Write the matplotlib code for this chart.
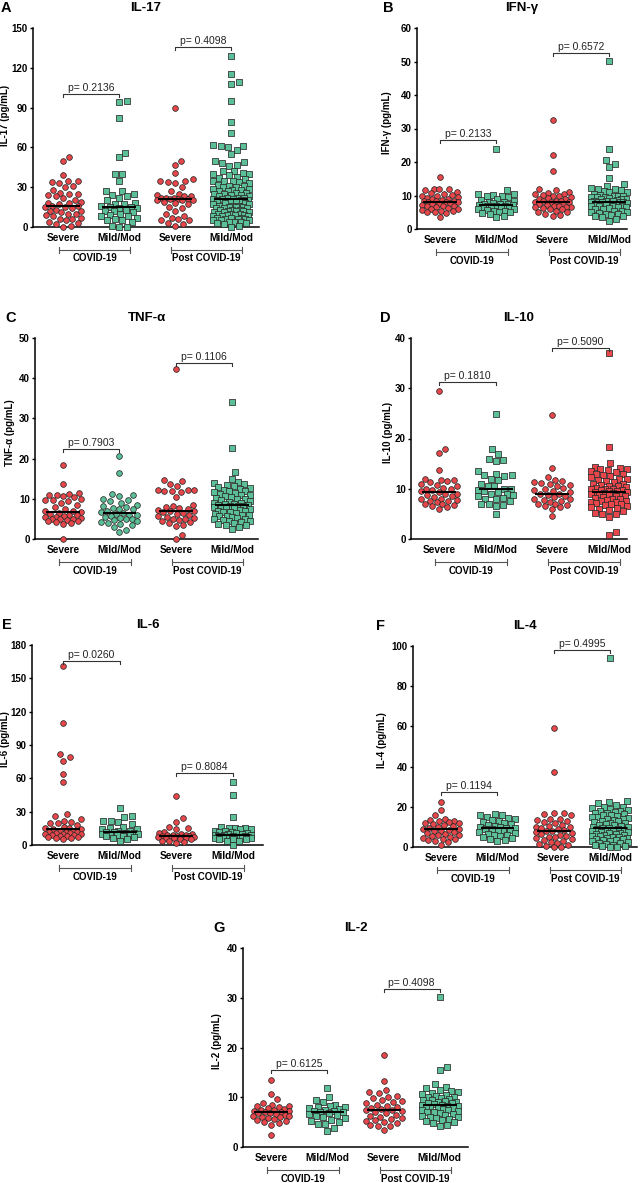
import numpy as np
import matplotlib
matplotlib.use('Agg')
import matplotlib.pyplot as plt
from matplotlib import transforms

plt.rcParams['font.family'] = ['Liberation Sans', 'DejaVu Sans']

# ---------------- data ----------------
categories = ['Severe', 'Mild/Mod', 'Severe', 'Mild/Mod']
group_names = ['COVID-19', 'Post COVID-19']

# IL-17
il17_sev_c = [53, 50, 39, 35, 35, 34, 33, 31, 30, 28, 26, 25, 25, 24, 23, 22, 20, 19, 18, 18, 17, 16, 16, 15, 15,
              14, 13, 12, 12, 11, 10, 10, 9, 8, 7, 6, 6, 5, 4, 3, 2, 1, 0]
il17_mild_c = [95, 94, 82, 56, 53, 40, 40, 35, 27, 27, 25, 24, 23, 22, 20, 18, 17, 17, 16, 15, 15, 14, 14, 13, 12,
               12, 11, 10, 9, 8, 8, 7, 6, 5, 5, 4, 1, 0, 0]
il17_sev_p = [90, 50, 47, 41, 36, 35, 35, 34, 33, 30, 27, 25, 24, 23, 23, 22, 22, 22, 21, 21, 21, 20, 20, 20, 19,
              18, 17, 15, 14, 12, 10, 8, 7, 6, 5, 5, 3, 2, 1]
il17_mild_p = [129, 115, 109, 108, 95, 79, 71, 62, 61, 61, 60, 58, 55, 50, 49, 48, 47, 46,
               42, 42, 41, 40, 40, 39, 38, 37, 36, 35, 35, 35, 34, 33, 32, 31, 31, 30, 30,
               29, 29, 28, 28, 27, 27, 26, 26, 25, 25, 24, 24, 23, 23, 22, 22, 22, 21, 21, 21, 20, 20, 20,
               19, 19, 18, 18, 17, 17, 16, 16, 16, 15, 15, 15, 14, 14, 14, 13, 13, 13, 12, 12, 12, 11, 11, 11,
               10, 10, 10, 9, 9, 9, 8, 8, 8, 7, 7, 7, 6, 6, 6, 5, 5, 5, 4, 4, 4, 3, 3, 2, 1, 0]

# IFN-gamma
ifng_sev_c = [15.5, 12, 12, 11.8, 11.5, 11, 10.8, 10.5, 10.2, 10, 10, 9.5, 9.3, 9, 9, 8.8, 8.5, 8.5, 8.3, 8, 8, 8,
              7.8, 7.5, 7.5, 7.2, 7, 7, 6.8, 6.5, 6.3, 6, 6, 5.8, 5.5, 5.5, 5.2, 5, 4.8, 3.5]
ifng_mild_c = [24, 11.5, 10.5, 10.3, 10.2, 10, 10, 9.5, 9, 8.8, 8.5, 8, 8, 7.8, 7.5, 7.5, 7.5, 7.3, 7.2, 7, 7, 7,
               6.8, 6.5, 6.5, 6.3, 6, 6, 5.8, 5.5, 5.5, 5, 5, 4.8, 4.5, 4, 3.5]
ifng_sev_p = [32.5, 22, 17.2, 12, 11.5, 11, 10.8, 10.5, 10.5, 10.2, 10, 10, 9.5, 9.2, 9, 9, 8.5, 8.5, 8.3, 8, 8, 8,
              7.5, 7.5, 7.2, 7, 7, 6.5, 6.5, 6.5, 6.2, 6, 6, 5.5, 5, 5, 4.5, 4.2, 4]
ifng_mild_p = [50.2, 23.8, 20.5, 19.5, 18.5, 15.2, 13.5, 12.7, 12.2, 12, 11.8, 11.5, 11.2, 11, 11, 10.5, 10.2, 10,
               10, 10, 9.7, 9.5, 9.5, 9.2, 9, 9, 9, 8.8, 8.5, 8.5, 8.5, 8.2, 8, 8, 8, 8, 7.8, 7.5, 7.5, 7.5, 7.2,
               7, 7, 7, 6.8, 6.5, 6.5, 6.2, 6, 6, 5.5, 5.5, 5, 5, 4.8, 4.5, 4.5, 4.2, 4, 4, 3.5, 3, 2.5]

# TNF-alpha
tnfa_sev_c = [18.3, 13.8, 11.5, 11.2, 11, 11, 10.8, 10.5, 10, 9.8, 9.7, 9.5, 9, 8.5, 8, 7.5, 7, 7, 6.8, 6.5, 6.3,
              6, 6, 5.8, 5.5, 5.5, 5.2, 5, 5, 5, 4.8, 4.5, 4.5, 4.2, 4, 3.8, 0]
tnfa_mild_c = [20.7, 16.4, 11.1, 11, 10.8, 10, 9.8, 9.5, 9, 8.5, 8.2, 8, 7.8, 7.5, 7.5, 7, 6.8, 6.5, 6.3, 6, 6,
               5.8, 5.5, 5.3, 5, 5, 4.8, 4.5, 4.2, 4, 3.8, 3.5, 3, 2.3, 1.8]
tnfa_sev_p = [42.2, 14.8, 14.5, 13.8, 13.3, 12.3, 12.2, 12.1, 12, 12, 11.8, 10.5, 8.5, 8.3, 8, 7.8, 7.5, 7.2, 7, 7,
              6.8, 6.5, 6.3, 6, 5.8, 5.5, 5.3, 5, 5, 4.8, 4.5, 4.3, 4, 3.5, 3.3, 1, 0]
tnfa_mild_p = [34.2, 22.7, 16.6, 15, 14.2, 14, 13.8, 13.5, 13.2, 13, 12.8, 12.5, 12.2, 12, 12, 11.8, 11.5, 11.2,
               11, 11, 10.8, 10.5, 10.2, 10, 10, 9.8, 9.5, 9.2, 9, 9, 8.8, 8.6, 8.5, 8.4, 8.3, 8.2, 8.1, 8, 8,
               7.8, 7.6, 7.5, 7.3, 7, 7, 6.8, 6.6, 6.4, 6.2, 6, 6, 5.8, 5.6, 5.4, 5.2, 5, 5, 4.8, 4.6, 4.4, 4.2,
               4, 3.8, 3.6, 3.4, 3, 2.5]

# IL-10
il10_sev_c = [29.5, 18, 17.2, 13.7, 12, 11.8, 11.7, 11.5, 11.3, 11, 10.8, 10.5, 10.2, 10, 10, 9.8, 9.5, 9.3, 9, 9,
              8.8, 8.5, 8.3, 8, 8, 7.8, 7.5, 7.5, 7.3, 7, 7, 6.8, 6.5, 6.3, 6]
il10_mild_c = [24.9, 18, 17, 16, 15.8, 15.6, 13.5, 13, 12.7, 12.5, 12.7, 12, 11.7, 11, 10.5, 10.5, 10, 10, 9.8, 9.5,
               9.3, 9, 9, 8.8, 8.5, 8.2, 8, 8, 7.5, 7, 7, 6.8, 6.5, 5]
il10_sev_p = [24.7, 14.2, 12.4, 11.7, 11.6, 11.4, 11.2, 11, 10.8, 10.5, 10.2, 10, 9.8, 9.5, 9.3, 9, 9, 8.8, 8.5,
              8.3, 8, 8, 7.8, 7.5, 7.3, 7, 7, 6.8, 6.5, 6.3, 6, 4.5]
il10_mild_p = [37, 18.4, 15.2, 14.3, 14.2, 14, 14, 13.8, 13.5, 13.3, 13, 13, 12.8, 12.5, 12.3, 12, 12, 11.8, 11.5,
               11.3, 11, 11, 10.8, 10.6, 10.5, 10.3, 10.2, 10, 10, 10, 9.8, 9.7, 9.6, 9.5, 9.4, 9.3, 9.2, 9.1, 9,
               9, 8.9, 8.8, 8.6, 8.5, 8.3, 8.2, 8, 8, 7.8, 7.6, 7.5, 7.4, 7.3, 7.2, 7, 7, 6.8, 6.6, 6.4, 6.2, 6,
               5.8, 5.5, 5.2, 5, 4.9, 4.3, 1.3, 0.7]

# IL-6
il6_sev_c = [161, 110, 82, 79, 76, 64, 57, 28, 26, 23, 22, 21, 20, 20, 18, 16, 15, 15, 14, 14, 13, 13, 12, 12, 12,
             11, 11, 10, 10, 10, 9, 9, 8, 8, 7, 7, 6, 6, 5]
il6_mild_c = [33, 26, 25, 22, 22, 21, 19, 16, 15, 14, 14, 13, 13, 12, 12, 11, 11, 11, 10, 10, 10, 9, 9, 8, 8, 7,
              6, 5, 4]
il6_sev_p = [44, 24, 21, 16, 15, 14, 12, 11, 10, 10, 9, 9, 9, 8, 8, 8, 7, 7, 7, 7, 6, 6, 6, 5, 5, 4, 4, 3, 2]
il6_mild_p = [57, 45, 25, 16, 15, 15, 15, 14, 14, 13, 13, 12, 12, 11, 11, 10, 10, 9, 9, 9, 8, 8, 8, 8, 7, 7, 7, 7,
              7, 6, 6, 6, 6, 5, 5, 5, 4, 4, 0]

# IL-4
il4_sev_c = [22.5, 18.5, 16, 14, 13.5, 13, 13, 12.5, 12, 12, 11.5, 11, 10.5, 10, 9.5, 9, 9, 8.5, 8, 8, 7.5, 7,
             6.5, 6, 6, 5.5, 5, 4.5, 4, 4, 3.5, 3, 2.5, 1]
il4_mild_c = [16.5, 16, 16, 15, 14.5, 14, 13.5, 13, 12.5, 12, 11.5, 11, 10.5, 10, 10, 9.5, 9.5, 9, 9, 8.5, 8, 8,
              7.5, 7, 6.5, 6, 6, 5.5, 5, 4.5, 4, 3.5, 3]
il4_sev_p = [59, 37.5, 17, 17, 16.5, 16, 14, 14, 13.5, 13, 12.5, 12, 11, 10.5, 10, 10, 9.5, 9, 8.5, 8, 8, 7.5, 7,
             6.5, 6, 5.5, 5, 5, 4.5, 4, 3.5, 3, 2.5, 2, 1.5, 1, 0.5, 0, 0]
il4_mild_p = [94, 23, 22.5, 22, 21, 20, 20, 19.5, 19, 18.5, 18, 18, 17.5, 17, 17, 16.5, 16, 16, 15.5, 15, 15, 14.5,
              14, 14, 13.5, 13, 13, 12.5, 12, 12, 11.5, 11, 11, 10.5, 10, 10, 9.5, 9.5, 9, 9, 8.5, 8.5, 8, 8, 7.5,
              7.5, 7, 7, 6.5, 6.5, 6, 6, 5.5, 5.5, 5, 5, 4.5, 4.5, 4, 4, 3.5, 3.5, 3, 3, 2.5, 2, 2, 1.5, 1, 1,
              0.5, 0.5, 0, 0]

# IL-2
il2_sev_c = [13.4, 10.7, 9.7, 8.8, 8.5, 8.3, 8.2, 8, 7.8, 7.7, 7.5, 7.5, 7.3, 7.2, 7, 7, 6.9, 6.8, 6.6, 6.5, 6.3,
             6.2, 6, 6, 5.8, 5.7, 5.5, 5.3, 5, 4.8, 4.5, 2.4]
il2_mild_c = [11.8, 10, 9.5, 9, 8.5, 8.3, 8, 8, 7.8, 7.6, 7.5, 7.3, 7.2, 7, 7, 6.8, 6.6, 6.4, 6.2, 6, 5.8, 5.5,
              5.3, 5, 4.6, 4.6, 3.8, 3.2]
il2_sev_p = [18.4, 13.2, 11.4, 11, 10.8, 10.2, 10, 9.8, 9.5, 9.2, 9, 8.8, 8.5, 8.3, 8, 7.8, 7.6, 7.5, 7.4, 7.2, 7,
             6.8, 6.5, 6.2, 6, 5.8, 5.6, 5.4, 5.2, 5, 4.8, 4.5, 4.3, 4.2, 3.5]
il2_mild_p = [30.2, 16, 15.5, 12.7, 12, 11.8, 11.5, 11.2, 11, 10.8, 10.6, 10.4, 10.2, 10, 10, 9.8, 9.6, 9.5, 9.4,
              9.2, 9, 9, 8.9, 8.8, 8.6, 8.5, 8.4, 8.3, 8.2, 8, 8, 7.9, 7.8, 7.6, 7.5, 7.4, 7.2, 7, 7, 6.8, 6.6,
              6.4, 6.2, 6, 6, 5.8, 5.6, 5.5, 5.2, 5, 4.8, 4.5, 4.2]

titles = ['IL-17', 'IFN-γ', 'TNF-α', 'IL-10', 'IL-6', 'IL-4', 'IL-2']
ylabels = ['IL-17 (pg/mL)', 'IFN-γ (pg/mL)', 'TNF-α (pg/mL)', 'IL-10 (pg/mL)', 'IL-6 (pg/mL)',
           'IL-4 (pg/mL)', 'IL-2 (pg/mL)']
letters = ['A', 'B', 'C', 'D', 'E', 'F', 'G']
pvalues = [('0.2136', '0.4098'), ('0.2133', '0.6572'), ('0.7903', '0.1106'), ('0.1810', '0.5090'),
           ('0.0260', '0.8084'), ('0.1194', '0.4995'), ('0.6125', '0.4098')]
yticks_max = [150, 60, 50, 40, 180, 100, 40]
yticks_step = [30, 10, 10, 10, 30, 20, 10]
panel_data = [
    [il17_sev_c, il17_mild_c, il17_sev_p, il17_mild_p],
    [ifng_sev_c, ifng_mild_c, ifng_sev_p, ifng_mild_p],
    [tnfa_sev_c, tnfa_mild_c, tnfa_sev_p, tnfa_mild_p],
    [il10_sev_c, il10_mild_c, il10_sev_p, il10_mild_p],
    [il6_sev_c, il6_mild_c, il6_sev_p, il6_mild_p],
    [il4_sev_c, il4_mild_c, il4_sev_p, il4_mild_p],
    [il2_sev_c, il2_mild_c, il2_sev_p, il2_mild_p],
]

# ---------------- style / layout ----------------
RED = '#e8464a'
GREEN = '#5bbf98'
EDGE = '#2a2a2a'
styles = [
    [('o', RED), ('s', GREEN), ('o', RED), ('s', GREEN)],
    [('o', RED), ('s', GREEN), ('o', RED), ('s', GREEN)],
    [('o', RED), ('o', GREEN), ('o', RED), ('s', GREEN)],
    [('o', RED), ('s', GREEN), ('o', RED), ('s', RED)],
    [('o', RED), ('s', GREEN), ('o', RED), ('s', GREEN)],
    [('o', RED), ('s', GREEN), ('o', RED), ('s', GREEN)],
    [('o', RED), ('s', GREEN), ('o', RED), ('s', GREEN)],
]
# axes boxes in pixels: left, top, right, bottom
boxes = [(33, 28, 259, 227), (417, 28, 627, 229), (35, 338, 258, 539), (411, 338, 627, 539),
         (32, 645, 263, 845), (413, 646, 637, 847), (243, 948, 468, 1147)]
xlims = [(0.46, 4.5), (0.59, 4.32), (0.5, 4.46), (0.5, 4.32), (0.45, 4.53), (0.5, 4.48), (0.5, 4.5)]
bracket_y = [(100, 135.7), (26.6, 52.6), (22.5, 43.9), (31.3, 38.1), (166, 64.7), (27.4, 97.8), (15.4, 31.8)]
letter_x = [1, 383, 5, 380, 2, 376, 213]
ylabel_x = [5, 387, 10, 388, 5, 382, 217]
ylabel_yfrac = [0.56, 0.53, 0.53, 0.53, 0.53, 0.53, 0.53]

W, H = 641, 1183
fig = plt.figure(figsize=(W / 100, H / 100), dpi=100)

MS = 4.1  # marker size in points
D_SWARM = 7.2   # spacing used for the column scatter layout (px)
WMAX = 18.0


def swarm(ypx, d, wmax):
    n = len(ypx)
    xs = np.zeros(n)
    steps = np.arange(0.5, wmax + 0.01, 0.5)
    cands = [0.0]
    for s in steps:
        cands += [s, -s]
    cands = np.array(cands)
    px, py = [], []
    for i in np.argsort(ypx, kind='stable'):
        y = ypx[i]
        if not px:
            xs[i] = 0.0
        else:
            ax_ = np.array(px)
            ay_ = np.array(py)
            near = np.abs(ay_ - y) < d
            if not near.any():
                xs[i] = 0.0
            else:
                nx, ny = ax_[near], ay_[near]
                dmin = np.min(np.hypot(nx[None, :] - cands[:, None], ny[None, :] - y), axis=1)
                ok = np.where(dmin >= d)[0]
                xs[i] = cands[ok[0]] if len(ok) else cands[np.argmax(dmin)]
        px.append(xs[i])
        py.append(y)
    return xs


for k in range(7):
    l, t, r, b = boxes[k]
    ax = fig.add_axes([l / W, 1 - b / H, (r - l) / W, (b - t) / H])
    ax.set_xlim(*xlims[k])
    ymax = yticks_max[k]
    ax.set_ylim(0, ymax)
    ax.spines['top'].set_visible(False)
    ax.spines['right'].set_visible(False)
    for sp in ('left', 'bottom'):
        ax.spines[sp].set_linewidth(1.1)
        ax.spines[sp].set_color('black')
    ax.set_yticks(np.arange(0, ymax + 0.1, yticks_step[k]))
    ax.tick_params(axis='y', length=2.5, width=1.0, pad=1.2, labelsize=7)
    ax.set_xticks([1, 2, 3, 4])
    ax.set_xticklabels(categories)
    ax.tick_params(axis='x', length=0, pad=4.5, labelsize=7.3)
    for lab in ax.get_xticklabels() + ax.get_yticklabels():
        lab.set_fontweight('bold')

    axw = r - l
    axh = b - t
    xppu = axw / (xlims[k][1] - xlims[k][0])
    yppu = axh / ymax

    for g in range(4):
        vals = np.asarray(panel_data[k][g], dtype=float)
        ypx = vals * yppu
        offs = swarm(ypx, D_SWARM, WMAX)
        mk, col = styles[k][g]
        ax.scatter(g + 1 + offs / xppu, vals, s=MS ** 2, marker=mk, facecolor=col, edgecolor=EDGE,
                   linewidths=0.55, zorder=3, clip_on=False)
        med = np.median(vals)
        ax.plot([g + 1 - 0.3, g + 1 + 0.3], [med, med], color='black', lw=1.5, zorder=4,
                solid_capstyle='butt')

    # p-value brackets
    drop = 3.0 / yppu
    for j, (c1, c2) in enumerate([(1, 2), (3, 4)]):
        yb = bracket_y[k][j]
        ax.plot([c1, c1, c2, c2], [yb - drop, yb, yb, yb - drop], color='#333333', lw=0.8,
                clip_on=False, zorder=5)
        ax.text((c1 + c2) / 2, yb + 1.0 / yppu, 'p= ' + pvalues[k][j], ha='center', va='bottom',
                fontsize=7.5, color='#222222', clip_on=False)

    # group brackets below the axis
    trans = transforms.blended_transform_factory(ax.transData, ax.transAxes)
    yl = -23.0 / axh
    tick = 3.0 / axh
    for j, (c1, c2) in enumerate([(1, 2), (3, 4)]):
        x0, x1 = c1 - 0.07, c2 + 0.2
        ax.plot([x0, x1], [yl, yl], color='#555555', lw=0.8, transform=trans, clip_on=False)
        for xx in (x0, x1):
            ax.plot([xx, xx], [yl - tick, yl + tick], color='#555555', lw=0.8, transform=trans,
                    clip_on=False)
        ax.text((x0 + x1) / 2, yl - 8.5 / axh, group_names[j], ha='center', va='center', fontsize=7,
                fontweight='bold', transform=trans)

    # y label
    ax.set_ylabel(ylabels[k], fontsize=7, fontweight='bold')
    ax.yaxis.label.set_va('center')
    ax.yaxis.set_label_coords((ylabel_x[k] - l) / axw, ylabel_yfrac[k])

    # title and letter
    ax.text(0.5, 1 + 20.0 / axh, titles[k], ha='center', va='center', fontsize=9.5, fontweight='bold',
            transform=ax.transAxes)
    fig.text(letter_x[k] / W, 1 - (t - 20) / H, letters[k], ha='left', va='center', fontsize=10.5,
             fontweight='bold')

fig.savefig('out.png', dpi=100)
